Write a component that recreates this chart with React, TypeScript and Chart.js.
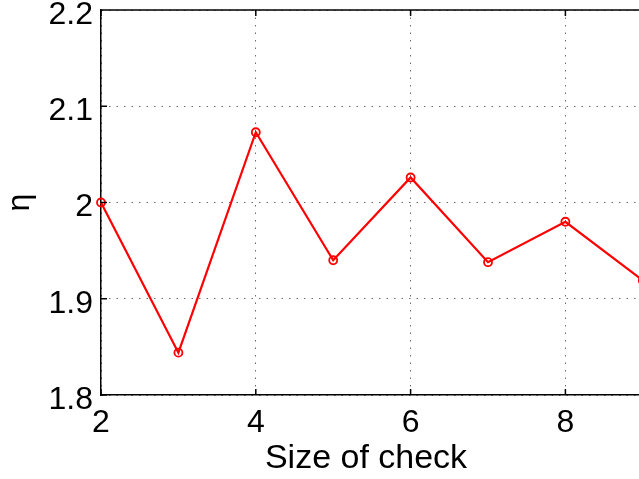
import React, { useEffect, useRef } from "react";
import { Chart, registerables } from "chart.js";

Chart.register(...registerables);

const sizeOfCheck = [2, 3, 4, 5, 6, 7, 8, 9];
const etaValues = [2.0, 1.844, 2.073, 1.94, 2.026, 1.938, 1.98, 1.919];
const xRange = [2, 10];
const yRange = [1.8, 2.2];
const xLabel = "Size of check";
const yLabel = "η";

const FONT = "'Liberation Sans', Arial, Helvetica, sans-serif";
const GRID_COLOR = "rgba(70,70,70,0.8)";
const GRID_DASH = [1.5, 6];

const boxPlugin = {
  id: "matlabBox",
  afterDraw(chart: any) {
    const { ctx, chartArea, scales } = chart;
    const { left, right, top, bottom } = chartArea;
    const x = scales.x;
    const y = scales.y;
    ctx.save();
    ctx.strokeStyle = "#000";
    ctx.lineWidth = 1.5;
    ctx.beginPath();
    ctx.moveTo(left, top);
    ctx.lineTo(right, top);
    x.ticks.forEach((t: any) => {
      const px = x.getPixelForValue(t.value);
      ctx.moveTo(px, bottom);
      ctx.lineTo(px, bottom - 6);
      ctx.moveTo(px, top);
      ctx.lineTo(px, top + 6);
    });
    y.ticks.forEach((t: any) => {
      const py = y.getPixelForValue(t.value);
      ctx.moveTo(left, py);
      ctx.lineTo(left + 6, py);
    });
    ctx.stroke();
    ctx.fillStyle = "#000";
    ctx.font = `34px ${FONT}`;
    ctx.textAlign = "center";
    ctx.textBaseline = "alphabetic";
    ctx.fillText(xLabel, 366, 468);
    ctx.restore();
  },
};

export default function App() {
  const ref = useRef<HTMLCanvasElement | null>(null);

  useEffect(() => {
    if (!ref.current) return;
    const chart = new Chart(ref.current, {
      type: "line",
      data: {
        datasets: [
          {
            data: sizeOfCheck.map((v, i) => ({ x: v, y: etaValues[i] })),
            borderColor: "#ff0000",
            borderWidth: 2.2,
            pointRadius: 4,
            pointBorderWidth: 1.8,
            pointBorderColor: "#ff0000",
            pointBackgroundColor: "rgba(0,0,0,0)",
            tension: 0,
            clip: false as any,
          },
        ],
      },
      options: {
        animation: false,
        responsive: false,
        layout: { padding: { left: 0, top: 10, right: 0, bottom: 0 } },
        plugins: { legend: { display: false }, tooltip: { enabled: false } },
        scales: {
          x: {
            type: "linear",
            min: xRange[0],
            max: xRange[1],
            ticks: {
              stepSize: 2,
              padding: 9,
              color: "#000",
              font: { family: FONT, size: 32 },
              maxRotation: 0,
            },
            grid: {
              color: GRID_COLOR,
              lineWidth: 1,
              drawTicks: false,
            },
            border: { display: true, color: "#000", width: 1.5, dash: GRID_DASH } as any,
            title: { display: false },
            afterFit(scale: any) {
              scale.height = 84;
              scale.paddingLeft = 0;
              scale.paddingRight = 0;
            },
          },
          y: {
            type: "linear",
            min: yRange[0],
            max: yRange[1],
            ticks: {
              stepSize: 0.1,
              padding: 8,
              labelOffset: 5,
              color: "#000",
              font: { family: FONT, size: 32 },
              callback: (v: any) => String(Number(Number(v).toFixed(1))),
            },
            grid: {
              color: GRID_COLOR,
              lineWidth: 1,
              drawTicks: false,
            },
            border: { display: true, color: "#000", width: 1.5, dash: GRID_DASH } as any,
            title: {
              display: true,
              text: yLabel,
              color: "#000",
              font: { family: FONT, size: 32 },
              padding: { top: 1, bottom: 0 },
            },
            afterFit(scale: any) {
              scale.width = 101;
              scale.paddingTop = 0;
              scale.paddingBottom = 0;
            },
          },
        },
      },
      plugins: [boxPlugin],
    });
    return () => chart.destroy();
  }, []);

  return (
    <div style={{ position: "fixed", left: 0, top: 0, width: "100vw", height: "100vh", overflow: "hidden", background: "#fff" }}>
      <canvas ref={ref} width={726} height={479} style={{ display: "block", width: 726, height: 479 }} />
    </div>
  );
}
